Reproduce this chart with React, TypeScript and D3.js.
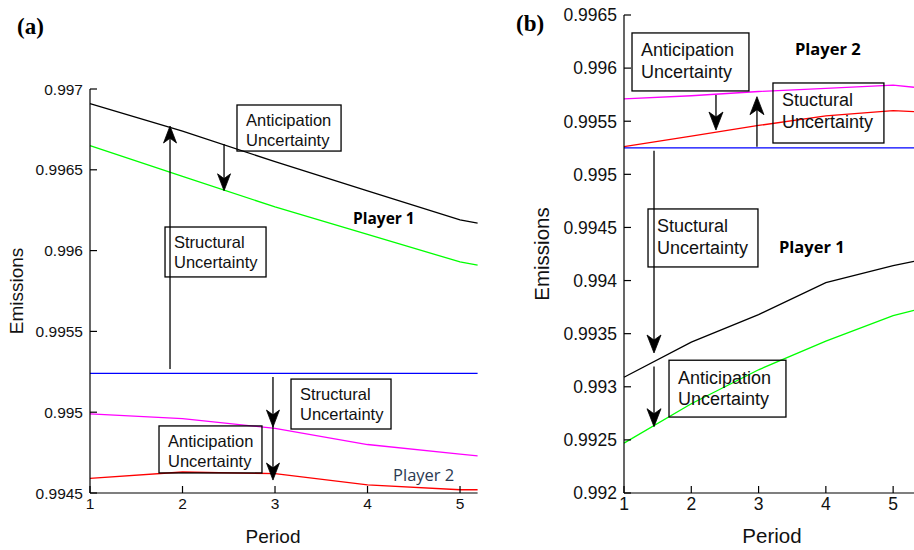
import React from "react";
import * as d3 from "d3";

// ---------- Panel (a) data ----------
const periodsA = [1, 2, 3, 4, 5, 5.19];
const p1AnticA = [0.99691, 0.99674, 0.99655, 0.99637, 0.99619, 0.99617]; // black
const p1StructA = [0.99665, 0.99646, 0.99627, 0.9961, 0.99593, 0.99591]; // green
const baselineA = [0.99524, 0.99524, 0.99524, 0.99524, 0.99524, 0.99524]; // blue
const p2StructA = [0.99499, 0.99496, 0.9949, 0.9948, 0.99474, 0.99473]; // magenta
const p2AnticA = [0.99459, 0.99463, 0.99462, 0.99455, 0.99452, 0.99452]; // red
const yTicksA = [0.9945, 0.995, 0.9955, 0.996, 0.9965, 0.997];
const yTickLabelsA = ["0.9945", "0.995", "0.9955", "0.996", "0.9965", "0.997"];
const xTicks = [1, 2, 3, 4, 5];
const xTickLabels = ["1", "2", "3", "4", "5"];

// ---------- Panel (b) data ----------
const periodsB = [1, 2, 3, 4, 5, 5.31];
const p2MagB = [0.99571, 0.99574, 0.99578, 0.99581, 0.99584, 0.99582]; // magenta
const p2RedB = [0.99526, 0.99536, 0.99546, 0.99555, 0.9956, 0.99559]; // red
const baselineB = [0.99525, 0.99525, 0.99525, 0.99525, 0.99525, 0.99525]; // blue
const p1BlackB = [0.99309, 0.99342, 0.99368, 0.99398, 0.99414, 0.99418]; // black
const p1GreenB = [0.99247, 0.99284, 0.99316, 0.99343, 0.99367, 0.99372]; // green
const yTicksB = [0.992, 0.9925, 0.993, 0.9935, 0.994, 0.9945, 0.995, 0.9955, 0.996, 0.9965];
const yTickLabelsB = ["0.992", "0.9925", "0.993", "0.9935", "0.994", "0.9945", "0.995", "0.9955", "0.996", "0.9965"];

const ANT = ["Anticipation", "Uncertainty"];
const STR = ["Structural", "Uncertainty"];
const STU = ["Stuctural", "Uncertainty"];

// annotations (data coordinates)
const boxesA = [
  { lines: ANT, x0: 2.589, x1: 3.714, y0: 0.996901, y1: 0.996616 },
  { lines: STR, x0: 1.811, x1: 2.903, y0: 0.996146, y1: 0.995837 },
  { lines: STR, x0: 3.173, x1: 4.254, y0: 0.995205, y1: 0.994896 },
  { lines: ANT, x0: 1.746, x1: 2.859, y0: 0.994915, y1: 0.994624 },
];
const arrowsA = [
  { x: 1.865, from: 0.995267, to: 0.996771, heads: [0.996771] },
  { x: 2.449, from: 0.99666, to: 0.99637, heads: [0.99637] },
  { x: 2.978, from: 0.995218, to: 0.99458, heads: [0.994908, 0.99458] },
];
const labelsA = [
  { text: "Player 1", x: 3.843, y: 0.996165, color: "#000", size: 15.5, weight: 700 },
  { text: "Player 2", x: 4.276, y: 0.994577, color: "#2b3a52", size: 16.5, weight: 500 },
];

const boxesB = [
  { lines: ANT, x0: 1.119, x1: 2.857, y0: 0.996331, y1: 0.995785 },
  { lines: STU, x0: 3.214, x1: 4.863, y0: 0.99586, y1: 0.995295 },
  { lines: STU, x0: 1.357, x1: 2.991, y0: 0.994674, y1: 0.994128 },
  { lines: ANT, x0: 1.669, x1: 3.407, y0: 0.99325, y1: 0.992715 },
];
const arrowsB = [
  { x: 1.446, from: 0.995222, to: 0.993318, heads: [0.993318] },
  { x: 1.446, from: 0.99319, to: 0.992624, heads: [0.992624] },
  { x: 2.367, from: 0.995747, to: 0.995417, heads: [0.995417] },
  { x: 2.976, from: 0.99526, to: 0.995731, heads: [0.995731] },
];
const labelsB = [
  { text: "Player 2", x: 3.541, y: 0.996123, color: "#000", size: 16.5, weight: 700 },
  { text: "Player 1", x: 3.303, y: 0.994259, color: "#000", size: 16.5, weight: 700 },
];

const SANS = "'Liberation Sans', Arial, sans-serif";

type PanelProps = {
  periods: number[];
  series: { values: number[]; color: string }[];
  xDomain: [number, number];
  xRange: [number, number];
  yDomain: [number, number];
  yRange: [number, number];
  yTicks: number[];
  yTickLabels: string[];
  tickFont: number;
  boxFont: number;
  boxB1: number;
  boxB2: number;
  boxes: typeof boxesA;
  arrows: typeof arrowsA;
  labels: typeof labelsA;
  headLen: number;
  headW: number;
  ylabelX: number;
  xlabelX: number;
  labelFont: number;
  panelTag: string;
  tagX: number;
  tagY: number;
};

function Panel(p: PanelProps) {
  const x = d3.scaleLinear().domain(p.xDomain).range(p.xRange);
  const y = d3.scaleLinear().domain(p.yDomain).range(p.yRange);
  const line = d3
    .line<number>()
    .x((_, i) => x(p.periods[i]))
    .y((d) => y(d));
  const left = p.xRange[0];
  const bottom = p.yRange[0];
  const top = p.yRange[1];
  const right = p.xRange[1];
  const tick = 7;
  const head = (cx: number, cy: number, dir: number) => {
    // dir = 1 pointing down, -1 pointing up
    const L = p.headLen;
    const W = p.headW;
    const n = L * 0.72;
    return `M${cx},${cy} L${cx - W},${cy - dir * L} L${cx},${cy - dir * n} L${cx + W},${cy - dir * L} Z`;
  };
  return (
    <g>
      <text x={p.tagX} y={p.tagY} fontFamily="'Liberation Serif', 'Times New Roman', serif" fontWeight="bold" fontSize={23}>
        {p.panelTag}
      </text>
      {p.series.map((s, i) => (
        <path key={i} d={line(s.values) || ""} fill="none" stroke={s.color} strokeWidth={1.3} />
      ))}
      {/* axes */}
      <line x1={left} y1={top} x2={left} y2={bottom} stroke="#000" strokeWidth={1.2} />
      <line x1={left} y1={bottom} x2={right} y2={bottom} stroke="#000" strokeWidth={1.2} />
      {p.yTicks.map((t, i) => (
        <g key={"y" + i}>
          <line x1={left} x2={left + tick} y1={y(t)} y2={y(t)} stroke="#000" strokeWidth={1.2} />
          <text x={left - 7} y={y(t)} dy="0.36em" textAnchor="end" fontFamily={SANS} fontSize={p.tickFont} fill="#111">
            {p.yTickLabels[i]}
          </text>
        </g>
      ))}
      {xTicks.map((t, i) => (
        <g key={"x" + i}>
          <line x1={x(t)} x2={x(t)} y1={bottom} y2={bottom - tick} stroke="#000" strokeWidth={1.2} />
          <text x={x(t)} y={bottom + 4} dy="0.75em" textAnchor="middle" fontFamily={SANS} fontSize={p.tickFont} fill="#111">
            {xTickLabels[i]}
          </text>
        </g>
      ))}
      <text x={p.xlabelX} y={543} textAnchor="middle" fontFamily={SANS} fontSize={p.labelFont} fill="#111">
        Period
      </text>
      <text
        transform={`translate(${p.ylabelX},${(top + bottom) / 2}) rotate(-90)`}
        textAnchor="middle"
        fontFamily={SANS}
        fontSize={p.labelFont}
        fill="#111"
      >
        Emissions
      </text>
      {/* boxes */}
      {p.boxes.map((b, i) => (
        <g key={"b" + i}>
          <rect
            x={x(b.x0)}
            y={y(b.y0)}
            width={x(b.x1) - x(b.x0)}
            height={y(b.y1) - y(b.y0)}
            fill="none"
            stroke="#000"
            strokeWidth={1.3}
          />
          <text x={x(b.x0) + 9} y={y(b.y0) + p.boxB1} fontFamily={SANS} fontSize={p.boxFont} fill="#111">
            {b.lines[0]}
          </text>
          <text x={x(b.x0) + 9} y={y(b.y0) + p.boxB2} fontFamily={SANS} fontSize={p.boxFont} fill="#111">
            {b.lines[1]}
          </text>
        </g>
      ))}
      {/* arrows */}
      {p.arrows.map((a, i) => {
        const dir = a.to < a.from ? 1 : -1;
        return (
          <g key={"a" + i}>
            <line x1={x(a.x)} x2={x(a.x)} y1={y(a.from)} y2={y(a.to) - dir * 4} stroke="#000" strokeWidth={1.3} />
            {a.heads.map((h, j) => (
              <path key={j} d={head(x(a.x), y(h), dir)} fill="#000" stroke="#000" strokeWidth={0.8} strokeLinejoin="round" />
            ))}
          </g>
        );
      })}
      {p.labels.map((l, i) => (
        <text
          key={"l" + i}
          x={x(l.x)}
          y={y(l.y)}
          fontFamily="'Open Sans', 'Noto Sans', sans-serif"
          fontWeight={l.weight}
          fontSize={l.size}
          fill={l.color}
        >
          {l.text}
        </text>
      ))}
    </g>
  );
}

export default function App() {
  return (
    <svg
      width={914}
      height={550}
      style={{ position: "absolute", left: 0, top: 0, background: "#fff" }}
    >
      <rect x={0} y={0} width={914} height={550} fill="#fff" />
      <Panel
        periods={periodsA}
        series={[
          { values: p1AnticA, color: "#000" },
          { values: p1StructA, color: "#00ff00" },
          { values: baselineA, color: "#0000ff" },
          { values: p2StructA, color: "#ff00ff" },
          { values: p2AnticA, color: "#ff0000" },
        ]}
        xDomain={[1, 5.19]}
        xRange={[90, 477.6]}
        yDomain={[0.9945, 0.997]}
        yRange={[493, 89]}
        yTicks={yTicksA}
        yTickLabels={yTickLabelsA}
        tickFont={15.5}
        boxFont={16.5}
        boxB1={21}
        boxB2={41}
        boxes={boxesA}
        arrows={arrowsA}
        labels={labelsA}
        headLen={17}
        headW={6.5}
        ylabelX={23}
        xlabelX={273}
        labelFont={19}
        panelTag="(a)"
        tagX={17}
        tagY={34}
      />
      <Panel
        periods={periodsB}
        series={[
          { values: p2MagB, color: "#ff00ff" },
          { values: p2RedB, color: "#ff0000" },
          { values: baselineB, color: "#0000ff" },
          { values: p1BlackB, color: "#000" },
          { values: p1GreenB, color: "#00ff00" },
        ]}
        xDomain={[1, 5.31]}
        xRange={[624, 914]}
        yDomain={[0.992, 0.9965]}
        yRange={[493, 15]}
        yTicks={yTicksB}
        yTickLabels={yTickLabelsB}
        tickFont={17.5}
        boxFont={18}
        boxB1={23.5}
        boxB2={45}
        boxes={boxesB}
        arrows={arrowsB}
        labels={labelsB}
        headLen={18}
        headW={7}
        ylabelX={549}
        xlabelX={772}
        labelFont={20.5}
        panelTag="(b)"
        tagX={516}
        tagY={31}
      />
    </svg>
  );
}
